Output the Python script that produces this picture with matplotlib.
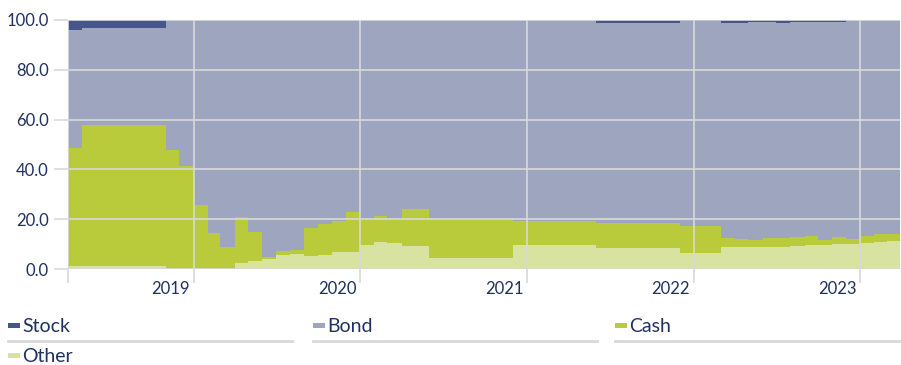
import matplotlib
matplotlib.use("Agg")
import matplotlib.pyplot as plt
import matplotlib.dates as mdates
from matplotlib.patches import Rectangle
from matplotlib.lines import Line2D
import numpy as np
import pandas as pd

# monthly allocation (%), Apr 2018 .. Mar 2023
months = pd.date_range("2018-04-01", periods=60, freq="MS")

stock = [4.0, 3.4, 3.4, 3.4, 3.4, 3.4, 3.4, 0, 0, 0,
         0, 0, 0, 0, 0, 0, 0, 0, 0, 0,
         0, 0, 0, 0, 0, 0, 0, 0, 0, 0,
         0, 0, 0, 0, 0, 0, 0, 0, 1.3, 1.3,
         1.3, 1.3, 1.3, 1.3, 0.3, 0.3, 0.3, 1.1, 1.1, 0.7,
         0.7, 1.1, 0.9, 0.7, 0.7, 0.9, 0, 0, 0, 0]

bond = [47.3, 38.8, 38.8, 38.8, 38.8, 38.8, 38.8, 52.2, 58.5, 74.3,
        85.7, 91.0, 79.2, 85.2, 95.1, 92.8, 92.4, 83.5, 82.1, 80.7,
        77.1, 80.3, 78.6, 80.3, 76.0, 76.0, 79.8, 79.8, 79.8, 79.8,
        79.8, 79.8, 80.7, 80.7, 80.7, 80.7, 80.7, 80.7, 80.4, 80.4,
        80.4, 80.4, 80.4, 80.4, 82.3, 82.3, 82.3, 86.3, 86.9, 87.7,
        87.0, 86.6, 86.2, 86.0, 87.7, 86.4, 87.8, 86.7, 85.8, 86.1]

cash = [47.5, 56.6, 56.6, 56.6, 56.6, 56.6, 56.6, 47.8, 41.5, 25.7,
        14.3, 9.0, 18.4, 11.6, 1.0, 1.6, 1.7, 11.3, 12.3, 12.6,
        16.2, 10.1, 10.4, 9.4, 14.6, 14.6, 15.9, 15.9, 15.9, 15.9,
        15.9, 15.9, 9.7, 9.7, 9.7, 9.7, 9.7, 9.7, 9.7, 9.7,
        9.7, 9.7, 9.7, 9.7, 11.1, 11.1, 11.1, 3.9, 3.0, 2.6,
        3.3, 3.3, 3.7, 3.7, 2.0, 2.8, 2.3, 3.0, 3.2, 2.5]

other = [1.2, 1.2, 1.2, 1.2, 1.2, 1.2, 1.2, 0, 0, 0,
         0, 0, 2.4, 3.2, 3.9, 5.6, 5.9, 5.2, 5.6, 6.7,
         6.7, 9.6, 11.0, 10.3, 9.4, 9.4, 4.3, 4.3, 4.3, 4.3,
         4.3, 4.3, 9.6, 9.6, 9.6, 9.6, 9.6, 9.6, 8.6, 8.6,
         8.6, 8.6, 8.6, 8.6, 6.3, 6.3, 6.3, 8.7, 9.0, 9.0,
         9.0, 9.0, 9.2, 9.6, 9.6, 9.9, 9.9, 10.3, 11.0, 11.4]

series_names = ["Stock", "Bond", "Cash", "Other"]
colors = {"Stock": "#46568b", "Bond": "#9ea5bf", "Cash": "#b9ca3a", "Other": "#d9e3a1"}
navy = "#1f3062"
grey = "#d9d9d9"

plt.rcParams["font.family"] = ["Lato", "DejaVu Sans"]

fig = plt.figure(figsize=(9.01, 3.65), dpi=100)
ax = fig.add_axes([68 / 901, 1 - 269 / 365, (900 - 68) / 901, (269 - 20) / 365])

# step areas need one extra edge
edges = pd.date_range("2018-04-01", periods=61, freq="MS")
def pad(v):
    return np.append(v, v[-1])

ax.stackplot(edges, pad(other), pad(cash), pad(bond), pad(stock),
             colors=[colors["Other"], colors["Cash"], colors["Bond"], colors["Stock"]],
             step="post", linewidth=0, antialiased=False)

ax.set_xlim(pd.Timestamp("2018-04-01"), pd.Timestamp("2023-03-29"))
ax.set_ylim(0, 100)

years = [2019, 2020, 2021, 2022, 2023]
major = [pd.Timestamp("2018-04-01")] + [pd.Timestamp(f"{y}-01-01") for y in years]
ax.set_xticks(major)
ax.set_xticklabels([""] * len(major))
ax.set_xticks([pd.Timestamp(f"{y}-01-01") - pd.Timedelta(days=50) for y in years], minor=True)
ax.set_xticklabels([str(y) for y in years], minor=True)
ax.tick_params(axis="x", which="major", length=10, width=1.2, color=grey)
ax.tick_params(axis="x", which="minor", length=0, pad=9, labelsize=12, labelcolor=navy)

ax.set_yticks(np.arange(0, 101, 20))
ax.set_yticklabels([f"{v:.1f}" for v in np.arange(0, 101, 20)])
ax.tick_params(axis="y", length=10, width=1.2, color=grey, pad=4, labelsize=12, labelcolor=navy)

ax.grid(True, which="major", color=grey, linewidth=1.2)
ax.set_axisbelow(False)
for s in ax.spines.values():
    s.set_visible(False)

# legend laid out like the original: 3 columns, rule under first row
W, H = 901, 365
for i, name in enumerate(series_names):
    col, row = i % 3, i // 3
    x0 = [8, 313, 615][col]
    yc = 325 + row * 30
    fig.add_artist(Rectangle((x0 / W, 1 - (yc + 2.5) / H), 12 / W, 5 / H,
                             transform=fig.transFigure, color=colors[name], lw=0))
    fig.text((x0 + 14) / W, 1 - (yc + 1.5) / H, name, fontsize=14, color=navy,
             va="center", ha="left")
for x0, x1 in [(8, 292), (313, 597), (615, 900)]:
    fig.add_artist(Line2D([x0 / W, x1 / W], [1 - 341 / H, 1 - 341 / H],
                          transform=fig.transFigure, color=grey, lw=2))

fig.savefig("out.png", dpi=100)
